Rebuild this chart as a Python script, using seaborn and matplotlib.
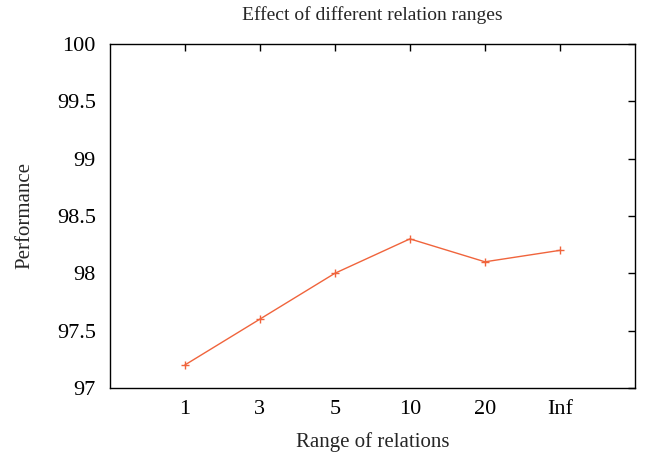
import matplotlib
matplotlib.use("Agg")
import matplotlib.pyplot as plt
import seaborn as sns
import pandas as pd

categories = ["1", "3", "5", "10", "20", "Inf"]
performance = [97.2, 97.6, 98.0, 98.3, 98.1, 98.2]
y_ticks = [97, 97.5, 98, 98.5, 99, 99.5, 100]
y_tick_labels = ["97", "97.5", "98", "98.5", "99", "99.5", "100"]

sns.set_theme(style="white")
plt.rcParams['font.family'] = ['Liberation Serif', 'DejaVu Serif']

df = pd.DataFrame({"idx": range(len(categories)), "perf": performance})

fig = plt.figure(figsize=(6.46, 4.58), dpi=100)
ax = fig.add_axes([0.170, 0.153, 0.813, 0.751])
sns.lineplot(data=df, x="idx", y="perf", ax=ax, color="#f0643c", linewidth=1.0,
             marker="+", markersize=6, markeredgewidth=1.0, markeredgecolor="#f0643c")

ax.set_xlim(-1, 6)
ax.set_ylim(97, 100)
ax.set_xticks(range(len(categories)))
ax.set_xticklabels(categories)
ax.set_yticks(y_ticks)
ax.set_yticklabels(y_tick_labels)
ax.tick_params(direction="in", length=5, width=1, top=True, right=True,
               labelsize=16, colors="black")
ax.tick_params(axis="y", pad=10)
ax.tick_params(axis="x", pad=9)
for s in ax.spines.values():
    s.set_color("black")
    s.set_linewidth(1.0)
ax.set_xlabel("Range of relations", fontsize=15, labelpad=9)
ax.set_ylabel("Performance", fontsize=15, labelpad=16.5)
ax.set_title("Effect of different relation ranges", fontsize=14, pad=17)
ax.grid(False)

fig.savefig("out.png", dpi=100)
